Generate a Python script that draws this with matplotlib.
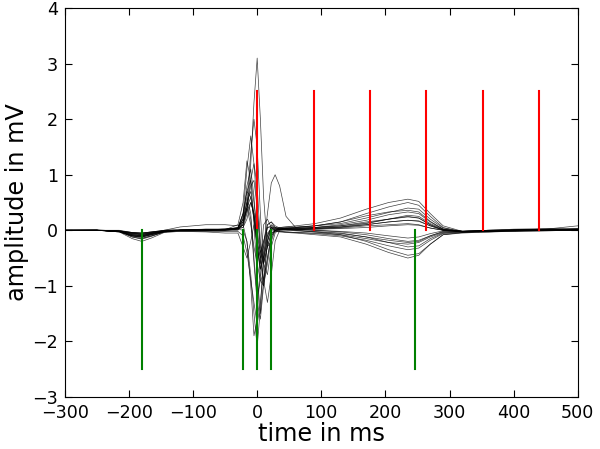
import matplotlib
matplotlib.use('Agg')
import matplotlib.pyplot as plt

# sample times (ms) shared by all beats
t_ms = [-300, -250, -215, -195, -180, -165, -145, -120, -80, -50, -30, -22, -16, -10, -5, 0,
        5, 10, 16, 22, 28, 35, 45, 60, 90, 130, 170, 205, 235, 252, 270, 290, 320, 360, 400, 450, 500]

# amplitudes (mV) of the overlaid beats
beat_01 = [0, 0, -0.03, -0.1, -0.12, -0.08, -0.02, 0.0, 0.02, 0.02, 0.03, 0.05, 0.3, 1.2, 2.3, 3.1, 2.0, 0.6, -0.3, -0.2, 0.0, 0.05, 0.06, 0.06, 0.08, 0.15, 0.3, 0.42, 0.5, 0.45, 0.25, 0.05, -0.03, 0.0, 0.02, 0.03, 0.03]
beat_02 = [0, 0, -0.02, -0.08, -0.1, -0.06, -0.02, 0.0, 0.01, 0.02, 0.04, 0.1, 0.5, 1.4, 2.0, 1.5, 0.3, -0.6, -0.8, -0.3, -0.05, 0.02, 0.04, 0.05, 0.08, 0.12, 0.22, 0.32, 0.4, 0.38, 0.2, 0.04, -0.02, 0.0, 0.01, 0.02, 0.02]
beat_03 = [0, 0.01, -0.02, -0.12, -0.15, -0.1, -0.03, 0.0, 0.0, 0.01, 0.05, 0.3, 1.1, 1.7, 1.2, 0.4, -0.4, -0.9, -0.5, -0.1, 0.0, 0.02, 0.03, 0.03, 0.05, 0.1, 0.18, 0.28, 0.33, 0.3, 0.15, 0.02, -0.03, -0.01, 0.01, 0.02, 0.02]
beat_04 = [0, 0, 0.0, -0.04, -0.05, -0.03, 0.0, 0.01, 0.02, 0.02, 0.03, 0.05, 0.2, 0.5, 0.3, -0.2, -0.5, -0.3, 0.3, 0.85, 1.0, 0.8, 0.25, 0.05, 0.03, 0.05, 0.1, 0.15, 0.18, 0.16, 0.08, 0.0, -0.02, 0.0, 0.01, 0.02, 0.08]
beat_05 = [0, 0, -0.02, -0.06, -0.08, -0.05, -0.01, 0.0, 0.01, 0.02, 0.04, 0.2, 0.8, 1.1, 0.6, -0.2, -0.8, -1.0, -0.5, -0.1, 0.0, 0.02, 0.03, 0.03, 0.05, 0.08, 0.15, 0.2, 0.25, 0.22, 0.1, 0.0, -0.03, -0.02, 0.0, 0.01, 0.02]
beat_06 = [0, 0, -0.01, -0.05, -0.07, -0.05, -0.02, 0.0, 0.0, 0.01, 0.02, 0.0, -0.2, -0.8, -1.5, -2.1, -1.4, -0.5, 0.1, 0.15, 0.05, 0.02, 0.02, 0.0, -0.02, -0.05, -0.12, -0.22, -0.3, -0.28, -0.15, -0.05, -0.03, -0.02, 0.0, 0.0, 0.0]
beat_07 = [0, 0, -0.02, -0.08, -0.1, -0.06, -0.02, 0.0, 0.0, 0.0, 0.02, 0.1, -0.2, -1.0, -1.9, -1.6, -0.6, 0.1, 0.2, 0.05, 0.0, 0.0, 0.01, 0.0, -0.03, -0.08, -0.2, -0.35, -0.45, -0.42, -0.25, -0.08, -0.04, -0.02, -0.01, 0.0, 0.0]
beat_08 = [0, 0, -0.01, -0.04, -0.05, -0.03, 0.0, 0.01, 0.01, 0.02, 0.03, 0.2, 0.5, 0.2, -0.6, -1.3, -1.6, -1.0, -0.2, 0.1, 0.05, 0.03, 0.03, 0.02, 0.0, -0.03, -0.08, -0.15, -0.2, -0.18, -0.1, -0.02, -0.02, -0.01, 0.0, 0.01, 0.01]
beat_09 = [0, 0, -0.03, -0.1, -0.14, -0.1, -0.03, 0.0, 0.01, 0.01, 0.03, 0.3, 0.7, 0.6, 0.2, -0.2, -0.5, -0.9, -1.3, -0.8, -0.2, 0.0, 0.02, 0.02, 0.0, -0.02, -0.05, -0.1, -0.14, -0.12, -0.06, -0.01, -0.02, -0.01, 0.0, 0.0, 0.01]
beat_10 = [0, 0, -0.02, -0.1, -0.12, -0.08, -0.02, 0.0, 0.0, 0.01, 0.03, 0.25, 0.6, 0.3, -0.5, -1.2, -0.9, -0.3, 0.05, 0.08, 0.03, 0.02, 0.02, 0.02, 0.03, 0.06, 0.12, 0.2, 0.27, 0.25, 0.12, 0.02, -0.02, -0.02, 0.0, 0.01, 0.02]
beat_11 = [0, 0, -0.01, -0.07, -0.09, -0.06, -0.02, 0.0, 0.0, 0.01, 0.04, 0.3, 0.7, 0.9, 0.5, 0.0, -0.4, -0.2, 0.1, 0.15, 0.08, 0.04, 0.04, 0.04, 0.05, 0.08, 0.13, 0.2, 0.24, 0.22, 0.1, 0.01, -0.02, -0.01, 0.0, 0.01, 0.02]
beat_12 = [0, 0, -0.02, -0.05, -0.06, -0.04, -0.01, 0.0, 0.01, 0.01, 0.1, 0.5, 1.25, 0.9, 0.1, -0.8, -1.5, -0.9, -0.2, 0.05, 0.03, 0.02, 0.02, 0.02, 0.04, 0.06, 0.1, 0.15, 0.18, 0.17, 0.08, 0.01, -0.02, -0.01, 0.0, 0.01, 0.01]
beat_13 = [0, 0, -0.03, -0.15, -0.2, -0.14, -0.04, -0.02, -0.03, -0.05, -0.05, -0.3, -0.5, -0.2, 0.1, -0.3, -0.7, -0.4, -0.05, 0.02, -0.02, -0.03, -0.04, -0.05, -0.08, -0.12, -0.25, -0.4, -0.5, -0.45, -0.25, -0.08, -0.05, -0.03, -0.02, -0.01, 0.0]
beat_14 = [0, 0, -0.02, -0.06, -0.08, -0.05, 0.0, 0.06, 0.1, 0.1, 0.08, 0.15, 0.4, 0.6, 0.2, -0.3, -0.6, -0.2, 0.05, 0.04, 0.02, 0.02, 0.02, 0.02, 0.02, 0.04, 0.08, 0.1, 0.12, 0.1, 0.04, 0.0, -0.02, -0.01, 0.0, 0.01, 0.01]
beat_15 = [0, 0, -0.02, -0.08, -0.1, -0.07, -0.02, 0.0, 0.01, 0.02, 0.05, 0.2, 0.5, 0.7, 0.3, -0.3, -0.7, -0.5, -0.1, 0.05, 0.05, 0.05, 0.06, 0.08, 0.12, 0.22, 0.38, 0.5, 0.56, 0.52, 0.3, 0.08, -0.02, -0.03, -0.01, 0.01, 0.02]
beat_16 = [0, 0, -0.02, -0.1, -0.12, -0.08, -0.03, -0.02, -0.02, -0.02, -0.02, -0.1, -0.4, -0.9, -1.3, -1.7, -1.3, -0.6, -0.1, 0.05, 0.0, -0.02, -0.03, -0.04, -0.06, -0.1, -0.18, -0.28, -0.35, -0.32, -0.18, -0.06, -0.04, -0.03, -0.02, -0.01, 0.0]
beat_17 = [0, 0, -0.01, -0.04, -0.05, -0.03, -0.01, 0.0, 0.0, 0.01, 0.02, 0.1, 0.35, 0.5, 0.3, -0.1, -0.4, -0.6, -0.3, -0.05, 0.0, 0.01, 0.01, 0.01, 0.02, 0.03, 0.05, 0.08, 0.1, 0.09, 0.04, 0.0, -0.01, 0.0, 0.0, 0.01, 0.01]
beat_18 = [0, 0, -0.02, -0.12, -0.16, -0.11, -0.03, -0.01, -0.01, -0.01, 0.0, 0.15, 0.4, 0.1, -0.3, -0.6, -0.9, -1.0, -0.6, -0.15, 0.0, 0.01, 0.0, -0.01, -0.03, -0.06, -0.12, -0.18, -0.22, -0.2, -0.1, -0.03, -0.02, -0.01, 0.0, 0.0, 0.01]
beat_19 = [0, 0, -0.02, -0.05, -0.07, -0.04, -0.01, 0.0, 0.0, 0.0, 0.03, 0.15, 0.4, 0.8, 0.9, 0.4, -0.3, -0.5, -0.2, 0.0, 0.02, 0.03, 0.04, 0.05, 0.08, 0.15, 0.26, 0.33, 0.36, 0.33, 0.16, 0.02, -0.03, -0.02, 0.0, 0.01, 0.02]
beat_20 = [0, 0, -0.02, -0.09, -0.11, -0.07, -0.02, 0.0, 0.0, 0.0, 0.02, 0.1, 0.4, 0.9, 1.2, 0.8, -0.2, -0.6, -0.3, -0.05, -0.02, -0.02, -0.03, -0.04, -0.05, -0.08, -0.15, -0.22, -0.25, -0.22, -0.12, -0.04, -0.03, -0.02, -0.01, 0.0, 0.0]

beats = [beat_01, beat_02, beat_03, beat_04, beat_05, beat_06, beat_07, beat_08, beat_09, beat_10,
         beat_11, beat_12, beat_13, beat_14, beat_15, beat_16, beat_17, beat_18, beat_19, beat_20]

# marker positions (ms)
red_marks = [0, 88, 176, 264, 352, 440]
red_top = 2.5
green_marks = [-180, -22, 0, 22, 246]
green_bottom = -2.5

fig = plt.figure(figsize=(6, 4.49), dpi=100)
ax = fig.add_axes([0.108, 0.116, 0.855, 0.866])

for b in beats:
    ax.plot(t_ms, b, color='black', lw=0.5, alpha=0.75)

for x in red_marks:
    ax.plot([x, x], [0, red_top], color='red', lw=1.5)
for x in green_marks:
    ax.plot([x, x], [green_bottom, 0], color='green', lw=1.5)

ax.set_xlim(-300, 500)
ax.set_ylim(-3, 4)
ax.set_xticks(range(-300, 501, 100))
ax.set_yticks(range(-3, 5))
ax.tick_params(direction='in', top=True, right=True, length=5, labelsize=12.6, pad=5)
ax.set_xlabel('time in ms', fontsize=17.3, labelpad=0)
ax.set_ylabel('amplitude in mV', fontsize=17.3, labelpad=2)

fig.savefig('out.png', dpi=100)
